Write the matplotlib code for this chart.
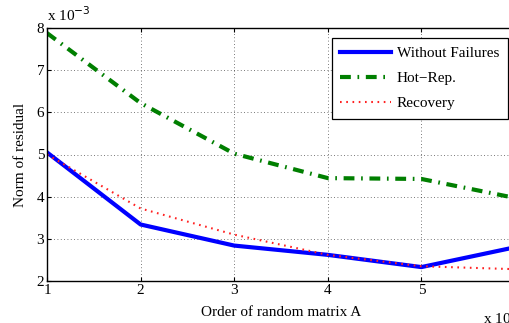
import matplotlib
matplotlib.use('Agg')
import matplotlib.pyplot as plt

plt.rcParams['font.family'] = ['Liberation Serif', 'DejaVu Serif']

# order of matrix (x 10^4) and residual norms (x 10^-3)
order = [1, 2, 3, 4, 5, 6]
without_failures = [5.05, 3.34, 2.84, 2.62, 2.33, 2.80]
hot_rep = [7.88, 6.22, 5.02, 4.44, 4.42, 3.97]
recovery = [5.00, 3.72, 3.10, 2.62, 2.35, 2.28]
xticks = [1, 2, 3, 4, 5]

fig = plt.figure(figsize=(5.09, 3.23), dpi=100)
ax = fig.add_axes([47/509, 42/323, 468/509, 253/323])

ax.plot(order, without_failures, color='#0000ff', lw=3, label='Without Failures')
ax.plot(order, hot_rep, color='#007f00', lw=3, dashes=(2.6, 1.6, 0.4, 1.6), label='Hot\u2212Rep.')
ax.plot(order, recovery, color='#ff2020', lw=1.5, linestyle=(0, (0.8, 2.2)), label='Recovery')

ax.set_xlim(1, 6)
ax.set_ylim(2, 8)
ax.set_xticks(xticks)
ax.set_yticks([2, 3, 4, 5, 6, 7, 8])
ax.tick_params(direction='in', labelsize=11, length=3, pad=2, top=True, right=True)
ax.grid(True, color='black', linestyle=(0, (1, 3)), linewidth=0.6, alpha=0.7)
for s in ax.spines.values():
    s.set_linewidth(1)

ax.set_xlabel('Order of random matrix A', fontsize=11, labelpad=7)
ax.set_ylabel('Norm of residual', fontsize=11, labelpad=7)

fig.text(47/509, 1 - 15/323, r'x 10$^{-3}$', fontsize=11, ha='left', va='center')
fig.text(483/509, 1 - 318/323, r'x 10$^{4}$', fontsize=11, ha='left', va='center')

leg = ax.legend(loc='upper left', bbox_to_anchor=(285/468, 1 - 10/253), fontsize=11,
                fancybox=False, edgecolor='black', framealpha=1, borderaxespad=0,
                handlelength=3.3, handletextpad=0.4, borderpad=0.55, labelspacing=0.75)
leg.get_frame().set_linewidth(0.9)

fig.savefig('out.png', dpi=100)
